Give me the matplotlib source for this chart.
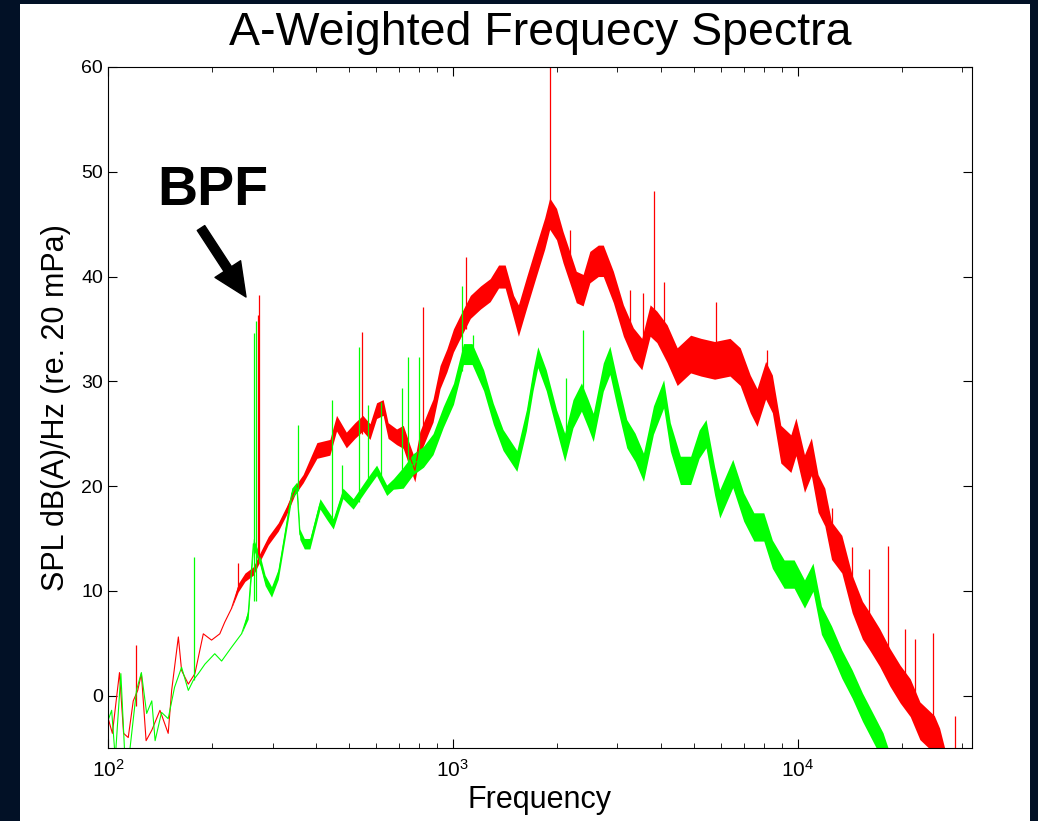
import numpy as np
import matplotlib.pyplot as plt
from matplotlib.patches import Rectangle

plt.rcParams['font.family'] = ['Liberation Sans', 'DejaVu Sans']
plt.rcParams['mathtext.fontset'] = 'custom'
plt.rcParams['mathtext.rm'] = 'Liberation Sans'
plt.rcParams['mathtext.it'] = 'Liberation Sans:italic'

# red spectrum (band centre, dB(A)/Hz)
red_f = [100, 103, 108, 111, 114.5, 118.4, 122, 125, 129, 134, 141.5, 149.5, 153, 160,
         163.5, 171, 178.7, 189, 199.7, 211, 218, 228, 238.6, 249.6, 264, 278.6, 291.7,
         311.8, 329.7, 348.6, 368, 403.5, 440, 460, 491, 520, 548, 575, 601, 628, 649,
         687, 718, 751, 776, 802, 846, 876, 918, 961, 1004, 1050, 1124, 1203, 1283,
         1357, 1418, 1500, 1549, 1634, 1745, 1846, 1909, 1998, 2087, 2182, 2280, 2386,
         2496, 2640, 2730, 2920, 3122, 3337, 3530, 3733, 3903, 4179, 4471, 4892, 5240,
         5740, 6360, 6810, 7280, 7620, 8070, 8440, 8930, 9550, 9880, 10460, 10950,
         11450, 11980, 12530, 13420, 14380, 15400, 16120, 17270, 18500, 19810, 21190,
         22600, 24880, 25780, 27000]
red_db = [-2.1, -3.6, 2.2, -3.6, -4.0, -0.5, 0.5, 2.1, -4.3, -3.3, -1.4, -3.6, 0.5, 5.6,
          2.4, 1.1, 2.1, 5.9, 5.3, 5.9, 7.0, 8.3, 10.3, 11.3, 11.9, 13.5, 14.8,
          16.1, 17.7, 19.6, 20.7, 23.4, 23.7, 26.0, 24.4, 25.3, 26.0, 25.2, 27.2, 27.5, 25.3,
          24.7, 24.7, 22.8, 21.5, 24.1, 26.0, 27.2, 30.4, 32.0, 33.9, 35.2, 37.1, 38.0, 38.7,
          40.0, 40.0, 37.1, 35.8, 38.4, 41.5, 44.1, 46.0, 45.0, 42.8, 40.9, 39.0, 38.7,
          40.9, 41.5, 41.5, 39.0, 35.8, 33.6, 32.6, 35.8, 35.2, 33.6, 31.4, 32.6, 32.3,
          32.0, 32.3, 31.4, 28.8, 27.5, 30.1, 28.8, 24.0, 23.1, 24.7, 21.2, 22.8,
          19.3, 18.0, 14.8, 13.5, 9.7, 7.2, 6.2, 4.6, 2.7, 1.1, -0.2,
          -2.4, -3.7, -4.9, -7.5]
# width of the noise band (dB) above each frequency edge
red_band_edges = [230, 400, 700, 1500, 4000]
red_band_width = [0.0, 0.8, 1.5, 2.2, 3.0, 3.6]

red_spike_f = [120.3, 238.6, 272, 275, 547, 822, 1092, 1909, 2182, 3262, 3555, 3827,
               4085, 5800, 8170, 12600, 14400, 16100, 18300, 20500, 21900, 24720, 28510]
red_spike_lo = [-1, 10.3, 13, 13, 25, 24, 35, 46, 41, 35, 33, 35,
                34, 33, 30, 15, 10, 6.5, 4, 1.5, 0, -3, -8]
red_spike_hi = [4.8, 12.7, 36.3, 38.2, 34.7, 37.1, 41.9, 60, 44.4, 38.7, 38.4, 48.2,
                39.5, 37.6, 33.0, 17.9, 14.2, 12.1, 14.3, 6.4, 5.4, 6.0, -1.9]

# green spectrum
green_f = [100, 102.5, 105, 109, 112, 115, 121, 125, 129.5, 134, 137, 143, 149.5, 156,
           163.5, 171, 177, 182.8, 191, 204, 213.6, 228, 244, 255, 264, 276, 285.6, 298,
           311.8, 326, 341, 353, 360, 371, 385, 412, 431, 450, 480, 514, 563, 601, 643,
           672, 718, 768, 822, 876, 938, 1004, 1073, 1137, 1228, 1310, 1398, 1533, 1634,
           1708, 1763, 1865, 1998, 2110, 2230, 2359, 2468, 2553, 2730, 2853, 2983, 3193,
           3375, 3570, 3816, 4085, 4270, 4567, 4892, 5177, 5420, 5740, 5940, 6480, 6970,
           7460, 7970, 8440, 9130, 9760, 10460, 11070, 11710, 12530, 13420, 14380, 15400,
           16500, 17670, 19000]
green_db = [-2.4, -1.4, -6, 2.1, -6, -6, 0.5, 2.2, -1.7, -0.5, -4.3, -1.6, -2.2, 0.8,
            2.7, 0.5, 1.5, 2.1, 3.0, 4.0, 3.3, 4.6, 5.9, 7.8, 14.5, 12.9, 11.0, 9.9,
            11.6, 15.4, 19.3, 19.9, 15.4, 14.5, 14.5, 18.3, 17.3, 16.4, 19.3, 18.3, 20.2, 21.5, 19.6,
            20.2, 20.8, 22.1, 22.8, 24.0, 26.6, 28.8, 32.6, 32.6, 30.1, 26.9, 24.4, 22.4, 26.3,
            30.1, 32.3, 30.1, 26.3, 23.7, 26.9, 28.5, 26.9, 25.6, 30.4, 32.0, 29.1, 25.0,
            23.7, 21.8, 26.3, 28.8, 24.7, 21.5, 21.5, 24.0, 25.0, 20.5, 18.3, 21.2, 18.0,
            16.1, 16.1, 13.5, 11.6, 11.6, 9.7, 11.3, 7.2, 5.3, 3.0, 1.1, -1.1,
            -3.0, -4.9, -8]
green_band_edges = [250, 700, 2000]
green_band_width = [0.0, 1.0, 2.0, 2.7]

green_spike_f = [177.6, 266, 268, 355, 445, 476, 534, 566, 620, 710, 742, 800, 1062, 1144,
                 2126, 2386]
green_spike_lo = [1.5, 9, 9, 19.5, 16.5, 19, 18.5, 20, 21, 20.5, 21, 22, 31, 32, 24, 28.5]
green_spike_hi = [13.2, 34.6, 35.8, 25.8, 28.2, 22.0, 33.3, 27.7, 28.0, 29.4, 32.3, 32.3,
                  39.1, 34.4, 30.3, 34.9]

fig = plt.figure(figsize=(10.38, 8.21), dpi=100, facecolor='#021126')
fig.patches.append(Rectangle((0.0193, 0), 0.973, 0.9951, transform=fig.transFigure,
                             facecolor='white', edgecolor='none', zorder=-1))
ax = fig.add_axes([0.104, 0.0889, 0.8324, 0.8295])

series = [
    (red_f, red_db, red_band_edges, red_band_width, red_spike_f, red_spike_lo, red_spike_hi, '#ff0000'),
    (green_f, green_db, green_band_edges, green_band_width, green_spike_f, green_spike_lo, green_spike_hi, '#00ff00'),
]
for f, db, edges, widths, sf, slo, shi, col in series:
    f = np.array(f)
    db = np.array(db)
    half = np.array(widths)[np.searchsorted(edges, f)] / 2
    ax.fill_between(f, db - half, db + half, color=col, lw=0)
    ax.plot(f, db, color=col, lw=0.8)
    ax.vlines(sf, slo, shi, color=col, lw=0.9)

ax.set_xscale('log')
ax.set_xlim(100, 32000)
ax.set_ylim(-5, 60)
ax.set_yticks(range(0, 61, 10))
ax.tick_params(which='both', direction='in', top=True, right=True, labelsize=14)
ax.tick_params(which='major', length=6.5)
ax.tick_params(which='minor', length=3.5)
ax.tick_params(axis='x', which='major', pad=8, labelsize=15)

ax.set_title('A-Weighted Frequecy Spectra', fontsize=33.5, pad=16)
ax.set_xlabel('Frequency', fontsize=22, labelpad=3)
ax.set_ylabel('SPL dB(A)/Hz (re. 20 mPa)', fontsize=22, labelpad=7)

fig.text(213 / 1038, 1 - 191 / 821, 'BPF', fontsize=40, fontweight='bold',
         ha='center', va='center')
ax.annotate('', xy=(246, 821 - 297), xycoords='figure pixels',
            xytext=(201, 821 - 228), textcoords='figure pixels',
            arrowprops=dict(arrowstyle='simple,head_length=1.2,head_width=1.1,tail_width=0.32',
                            color='black', shrinkA=0, shrinkB=0, mutation_scale=20))

fig.savefig('out.png', dpi=100, facecolor=fig.get_facecolor())
